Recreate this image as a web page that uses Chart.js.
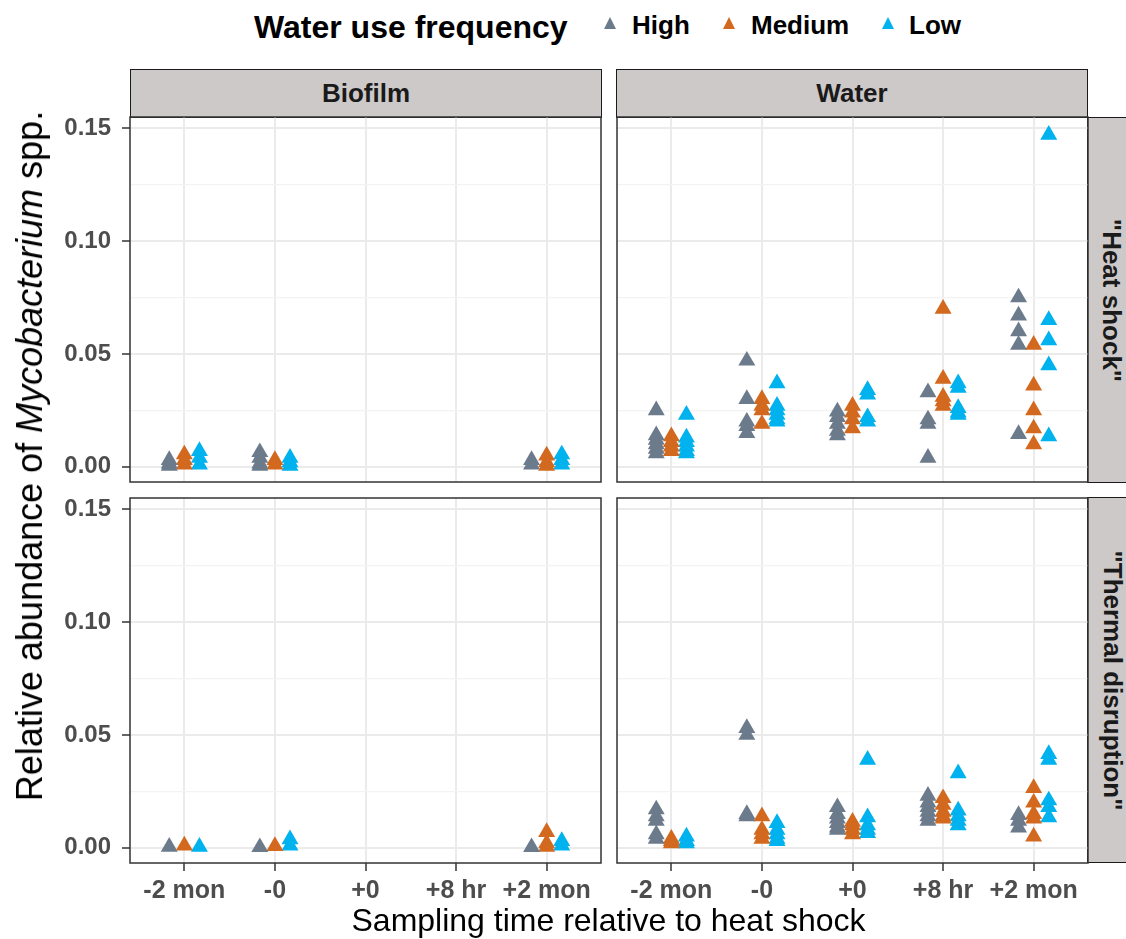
<!DOCTYPE html>
<html>
<head>
<meta charset="utf-8">
<script src="https://cdn.jsdelivr.net/npm/chart.js@4/dist/chart.umd.min.js"></script>
<style>
  body { margin: 0; background: #fff; font-family: 'Liberation Sans', Arial, Helvetica, sans-serif; }
  #page { position: relative; width: 1126px; height: 939px; overflow: hidden; }
  canvas { position: absolute; }
  .strip { position: absolute; background: #CDC9C9; border: 1.5px solid #1a1a1a; box-sizing: border-box;
           font-weight: bold; font-size: 26px; color: #1a1a1a; display: flex; align-items: center; justify-content: center; }
  .vtext { transform: rotate(90deg); white-space: nowrap; }
  .txt { position: absolute; white-space: nowrap; }
  .tri { position: absolute; width: 0; height: 0; border-left: 6.5px solid transparent; border-right: 6.5px solid transparent; border-bottom: 12px solid; }
</style>
</head>
<body>
<div id="page">
  <!-- legend -->
  <div class="txt" style="left:254px; top:7px; font-size:32px; font-weight:bold; line-height:40px;">Water use frequency</div>
  <div class="tri" style="left:604px; top:17px; border-bottom-color:#6C7B8B;"></div>
  <div class="txt" style="left:632px; top:9px; font-size:26px; font-weight:bold; line-height:32px;">High</div>
  <div class="tri" style="left:723px; top:17px; border-bottom-color:#D2691E;"></div>
  <div class="txt" style="left:751px; top:9px; font-size:26px; font-weight:bold; line-height:32px;">Medium</div>
  <div class="tri" style="left:882px; top:17px; border-bottom-color:#00B2EE;"></div>
  <div class="txt" style="left:909px; top:9px; font-size:26px; font-weight:bold; line-height:32px;">Low</div>

  <!-- strips -->
  <div class="strip" style="left:130px; top:69px; width:472px; height:49px;">Biofilm</div>
  <div class="strip" style="left:616px; top:69px; width:472px; height:49px;">Water</div>
  <div class="strip" style="left:1087px; top:117px; width:50px; height:366px;"><div class="vtext">"Heat shock"</div></div>
  <div class="strip" style="left:1087px; top:497px; width:50px; height:366px;"><div class="vtext">"Thermal disruption"</div></div>

  <canvas id="c1"></canvas>
  <canvas id="c2"></canvas>
  <canvas id="c3"></canvas>
  <canvas id="c4"></canvas>

  <!-- axis titles -->
  <div class="txt" style="left:130px; width:957px; top:900px; font-size:32px; line-height:40px; text-align:center;">Sampling time relative to heat shock</div>
  <div class="txt" style="left:30px; top:456px; font-size:36px; line-height:40px; transform:translate(-50%,-50%) rotate(-90deg);">Relative abundance of <i>Mycobacterium</i> spp.</div>
</div>

<script>
// categories and groups
const CATEGORIES = ['-2 mon', '-0', '+0', '+8 hr', '+2 mon'];
const GROUPS = ['High', 'Medium', 'Low'];
const GROUP_COLORS = ['#6C7B8B', '#D2691E', '#00B2EE'];
const Y_TICKS = [0, 0.025, 0.05, 0.075, 0.10, 0.125, 0.15];
const Y_MAJOR = [0, 0.05, 0.10, 0.15];

// Biofilm / "Heat shock"  (one list per sampling time)
const biofilmHeatHigh   = [[0.003, 0.0015, 0.0005], [0.0065, 0.004, 0.0015, 0.0005], [], [], [0.003, 0.001]];
const biofilmHeatMedium = [[0.0055, 0.003, 0.001], [0.003, 0.001], [], [], [0.005, 0.002, 0.0005]];
const biofilmHeatLow    = [[0.007, 0.004, 0.001], [0.004, 0.002, 0.0005], [], [], [0.0055, 0.003, 0.001]];

// Water / "Heat shock"
const waterHeatHigh   = [[0.025, 0.014, 0.012, 0.010, 0.008, 0.006], [0.047, 0.030, 0.020, 0.018, 0.015], [0.0245, 0.022, 0.019, 0.016, 0.014], [0.033, 0.021, 0.019, 0.004], [0.075, 0.067, 0.060, 0.054, 0.0145]];
const waterHeatMedium = [[0.0135, 0.011, 0.009, 0.007], [0.030, 0.027, 0.025, 0.019], [0.027, 0.024, 0.021, 0.017], [0.070, 0.039, 0.031, 0.029, 0.027], [0.054, 0.036, 0.025, 0.017, 0.010]];
const waterHeatLow    = [[0.023, 0.013, 0.011, 0.009, 0.007, 0.006], [0.037, 0.027, 0.025, 0.023, 0.021, 0.020], [0.034, 0.032, 0.022, 0.020], [0.037, 0.035, 0.026, 0.024, 0.023], [0.147, 0.065, 0.056, 0.045, 0.0135]];

// Biofilm / "Thermal disruption"
const biofilmThermalHigh   = [[0.0005], [0.0003], [], [], [0.0003]];
const biofilmThermalMedium = [[0.001], [0.0008], [], [], [0.007, 0.002, 0.0005]];
const biofilmThermalLow    = [[0.0005], [0.0038, 0.001], [], [], [0.003, 0.001]];

// Water / "Thermal disruption"
const waterThermalHigh   = [[0.017, 0.014, 0.012, 0.006, 0.004], [0.053, 0.050, 0.015, 0.014], [0.018, 0.015, 0.013, 0.011, 0.009, 0.008], [0.023, 0.020, 0.018, 0.016, 0.014, 0.012], [0.0145, 0.012, 0.009]];
const waterThermalMedium = [[0.004, 0.003, 0.002], [0.014, 0.008, 0.006, 0.004], [0.0115, 0.010, 0.008, 0.006], [0.022, 0.019, 0.016, 0.014, 0.013], [0.0265, 0.020, 0.015, 0.013, 0.005]];
const waterThermalLow    = [[0.005, 0.003, 0.002], [0.011, 0.008, 0.006, 0.004, 0.003], [0.039, 0.0135, 0.010, 0.008, 0.0065], [0.033, 0.0165, 0.014, 0.012, 0.010], [0.0415, 0.039, 0.021, 0.018, 0.0135]];

const FONT = "'Liberation Sans', Arial, Helvetica, sans-serif";
const DODGE = [-1 / 6, 0, 1 / 6];
const isMajor = v => Y_MAJOR.some(m => Math.abs(m - v) < 1e-9);

function buildDatasets(series) {
    return series.map((perCat, g) => ({
        label: GROUPS[g],
        data: perCat.flatMap((vals, i) => vals.map(v => ({ x: i + DODGE[g], y: v }))),
        pointStyle: 'triangle',
        pointRadius: 9.8,
        pointBackgroundColor: GROUP_COLORS[g],
        pointBorderWidth: 0,
        showLine: false
    }));
}

// panel frame like ggplot theme_bw
const framePlugin = {
    id: 'frame',
    afterDraw(chart) {
        const a = chart.chartArea, ctx = chart.ctx;
        ctx.save();
        ctx.strokeStyle = '#333333';
        ctx.lineWidth = 1.5;
        ctx.strokeRect(a.left, a.top, a.right - a.left, a.bottom - a.top);
        ctx.restore();
    }
};

function makePanel(id, series, panel, showX, showY) {
    const axW = showY ? 128 : 0;
    const axH = showX ? 60 : 0;
    const pad = 2;
    const el = document.getElementById(id);
    el.width = panel.w + axW + 2 * pad;
    el.height = panel.h + axH + 2 * pad;
    el.style.left = (panel.x - axW - pad) + 'px';
    el.style.top = (panel.y - pad) + 'px';

    new Chart(el, {
        type: 'scatter',
        data: { datasets: buildDatasets(series) },
        options: {
            responsive: false,
            animation: false,
            layout: { padding: pad, autoPadding: false },
            plugins: { legend: { display: false }, tooltip: { enabled: false } },
            scales: {
                x: {
                    type: 'linear',
                    min: -0.6,
                    max: 4.6,
                    afterBuildTicks: s => { s.ticks = CATEGORIES.map((c, i) => ({ value: i })); },
                    afterFit: s => { s.height = axH; s.paddingLeft = 0; s.paddingRight = 0; },
                    border: { display: false },
                    grid: {
                        color: '#EBEBEB',
                        lineWidth: 2,
                        drawTicks: showX,
                        tickLength: 8,
                        tickColor: '#333333',
                        tickWidth: 1.5
                    },
                    ticks: {
                        display: showX,
                        autoSkip: false,
                        maxRotation: 0,
                        padding: 5,
                        color: '#4D4D4D',
                        font: { family: FONT, size: 25, weight: 'bold' },
                        callback: (v, i) => CATEGORIES[i]
                    }
                },
                y: {
                    min: -0.0067,
                    max: 0.1549,
                    afterBuildTicks: s => { s.ticks = Y_TICKS.map(v => ({ value: v })); },
                    afterFit: s => { s.width = axW; s.paddingTop = 0; s.paddingBottom = 0; },
                    border: { display: false },
                    grid: {
                        color: ctx => isMajor(ctx.tick.value) ? '#EBEBEB' : '#F3F3F3',
                        lineWidth: ctx => isMajor(ctx.tick.value) ? 2 : 1.3,
                        drawTicks: showY,
                        tickLength: 8,
                        tickColor: ctx => isMajor(ctx.tick.value) ? '#333333' : 'rgba(0,0,0,0)',
                        tickWidth: 1.5
                    },
                    ticks: {
                        display: showY,
                        autoSkip: false,
                        padding: 11,
                        color: '#4D4D4D',
                        font: { family: FONT, size: 24, weight: 'bold' },
                        callback: v => isMajor(v) ? v.toFixed(2) : ''
                    }
                }
            }
        },
        plugins: [framePlugin]
    });
}

const LEFT = 130, RIGHT = 616.5, TOP = 117, BOTTOM = 498, PW = 471, PH = 365;

makePanel('c1', [biofilmHeatHigh, biofilmHeatMedium, biofilmHeatLow], { x: LEFT, y: TOP, w: PW, h: PH }, false, true);
makePanel('c2', [waterHeatHigh, waterHeatMedium, waterHeatLow], { x: RIGHT, y: TOP, w: PW, h: PH }, false, false);
makePanel('c3', [biofilmThermalHigh, biofilmThermalMedium, biofilmThermalLow], { x: LEFT, y: BOTTOM, w: PW, h: PH }, true, true);
makePanel('c4', [waterThermalHigh, waterThermalMedium, waterThermalLow], { x: RIGHT, y: BOTTOM, w: PW, h: PH }, true, false);
</script>
</body>
</html>
